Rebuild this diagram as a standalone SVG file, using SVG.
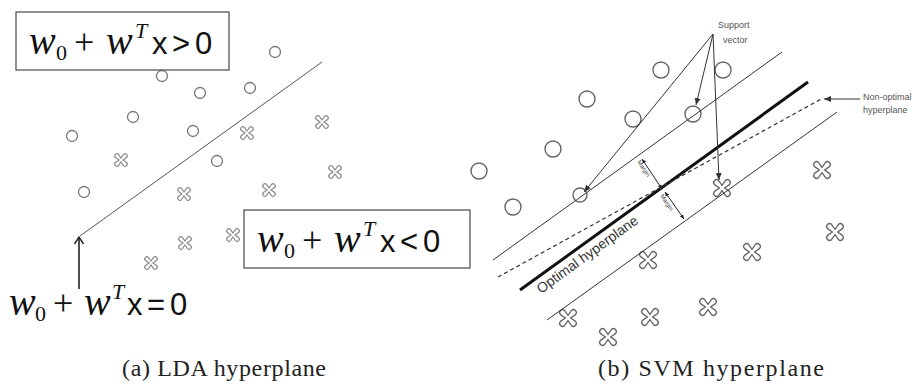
<svg xmlns="http://www.w3.org/2000/svg" xmlns:xlink="http://www.w3.org/1999/xlink" width="915" height="390" viewBox="0 0 915 390">
<style>
.box{fill:#fff;stroke:#555;stroke-width:1.3}
.mi{font-family:"Liberation Serif",serif;font-style:italic;font-size:40px;fill:#111}
.mr{font-family:"Liberation Serif",serif;font-size:36px;fill:#111}
.sub{font-family:"Liberation Serif",serif;font-size:22px;fill:#111}
.ss{font-family:"Liberation Sans",sans-serif;font-size:31px;fill:#111}
.cap{font-family:"Liberation Serif",serif;font-size:24px;fill:#222}
.lc{fill:none;stroke:#777;stroke-width:1.3}
.rc{fill:none;stroke:#666;stroke-width:1.4}
.lx{fill:none;stroke:#888;stroke-width:1.3}
.rx{fill:none;stroke:#666;stroke-width:1.1}
.small{font-family:"Liberation Sans",sans-serif;font-size:9px;fill:#555}
.tiny{font-family:"Liberation Sans",sans-serif;font-size:6px;fill:#444}
</style>
<defs>
<path id="xs" d="M0,-2.2 L2.8,-6.2 A2.4 2.4 0 0 1 6.2,-2.8 L2.2,0 L6.2,2.8 A2.4 2.4 0 0 1 2.8,6.2 L0,2.2 L-2.8,6.2 A2.4 2.4 0 0 1 -6.2,2.8 L-2.2,0 L-6.2,-2.8 A2.4 2.4 0 0 1 -2.8,-6.2 Z"/>
<marker id="chev" markerWidth="12" markerHeight="12" refX="10" refY="6" orient="auto" markerUnits="userSpaceOnUse" viewBox="0 0 12 12">
<path d="M3,1.5 L10,6 L3,10.5" fill="none" stroke="#222" stroke-width="1.4"/>
</marker>
<marker id="ah" markerWidth="8" markerHeight="8" refX="7" refY="4" orient="auto-start-reverse" markerUnits="userSpaceOnUse" viewBox="0 0 8 8">
<path d="M0,1 L7,4 L0,7 Z" fill="#333"/>
</marker>
<marker id="ahs" markerWidth="5" markerHeight="5" refX="4.5" refY="2.5" orient="auto-start-reverse" markerUnits="userSpaceOnUse" viewBox="0 0 5 5">
<path d="M0,0.5 L4.5,2.5 L0,4.5 Z" fill="#222"/>
</marker>
</defs>

<!-- ===== Panel (a) LDA ===== -->
<g id="lda-points">
<circle class="lc" cx="275" cy="52" r="5.5"/>
<circle class="lc" cx="162" cy="76" r="5.5"/>
<circle class="lc" cx="200" cy="93" r="5.5"/>
<circle class="lc" cx="250" cy="88" r="5.5"/>
<circle class="lc" cx="133" cy="117" r="5.5"/>
<circle class="lc" cx="72" cy="136" r="5.5"/>
<circle class="lc" cx="193" cy="131" r="5.5"/>
<circle class="lc" cx="217" cy="161" r="5.5"/>
<circle class="lc" cx="84" cy="192" r="5.5"/>
<use href="#xs" class="lx" transform="translate(247,133) scale(0.9)"/>
<use href="#xs" class="lx" transform="translate(322,122) scale(0.9)"/>
<use href="#xs" class="lx" transform="translate(335,172) scale(0.9)"/>
<use href="#xs" class="lx" transform="translate(121,160) scale(0.9)"/>
<use href="#xs" class="lx" transform="translate(184,194) scale(0.9)"/>
<use href="#xs" class="lx" transform="translate(269,190) scale(0.9)"/>
<use href="#xs" class="lx" transform="translate(233,235) scale(0.9)"/>
<use href="#xs" class="lx" transform="translate(185,243) scale(0.9)"/>
<use href="#xs" class="lx" transform="translate(151,263) scale(0.9)"/>
</g>

<g id="lda-connectors">
<line x1="80" y1="236" x2="322" y2="62" stroke="#555" stroke-width="1"/>
<line x1="79" y1="289" x2="79" y2="237" stroke="#222" stroke-width="1.6" marker-end="url(#chev)"/>
</g>

<g id="label-positive">
<rect class="box" x="16" y="12" width="213" height="58"/>
<text y="54"><tspan class="mi" x="29">w</tspan><tspan class="sub" x="56" dy="6">0</tspan><tspan class="mr" x="74" dy="-6">+</tspan><tspan class="mi" x="106">w</tspan><tspan class="sub" font-style="italic" x="135" dy="-16">T</tspan><tspan class="ss" x="152" dy="16">x</tspan><tspan class="ss" x="172">&gt;</tspan><tspan class="ss" x="195">0</tspan></text>
</g>

<g id="label-negative">
<rect class="box" x="244" y="210" width="226" height="58"/>
<text y="252"><tspan class="mi" x="257">w</tspan><tspan class="sub" x="284" dy="6">0</tspan><tspan class="mr" x="302" dy="-6">+</tspan><tspan class="mi" x="334">w</tspan><tspan class="sub" font-style="italic" x="363" dy="-16">T</tspan><tspan class="ss" x="380" dy="16">x</tspan><tspan class="ss" x="400">&lt;</tspan><tspan class="ss" x="423">0</tspan></text>
</g>

<g id="label-zero">
<text y="315"><tspan class="mi" x="9">w</tspan><tspan class="sub" x="35" dy="6">0</tspan><tspan class="mr" x="53" dy="-6">+</tspan><tspan class="mi" x="84">w</tspan><tspan class="sub" font-style="italic" x="112" dy="-16">T</tspan><tspan class="ss" x="127" dy="16">x</tspan><tspan class="ss" x="147">=</tspan><tspan class="ss" x="170">0</tspan></text>
</g>

<g id="caption-a">
<text class="cap" x="122" y="376" textLength="204" lengthAdjust="spacing">(a) LDA hyperplane</text>
</g>

<!-- ===== Panel (b) SVM ===== -->
<g id="svm-points">
<circle class="rc" cx="661" cy="70" r="8"/>
<circle class="rc" cx="723" cy="70" r="8"/>
<circle class="rc" cx="587" cy="99" r="8"/>
<circle class="rc" cx="633" cy="119" r="8"/>
<circle class="rc" cx="693" cy="114" r="8"/>
<circle class="rc" cx="553" cy="149" r="8"/>
<circle class="rc" cx="479" cy="171" r="8"/>
<circle class="rc" cx="580" cy="195" r="7"/>
<circle class="rc" cx="513" cy="207" r="8"/>
<use href="#xs" class="rx" transform="translate(722,188) scale(1.2)"/>
<use href="#xs" class="rx" transform="translate(822,170) scale(1.2)"/>
<use href="#xs" class="rx" transform="translate(835,232) scale(1.2)"/>
<use href="#xs" class="rx" transform="translate(752,252) scale(1.2)"/>
<use href="#xs" class="rx" transform="translate(708,307) scale(1.2)"/>
<use href="#xs" class="rx" transform="translate(648,260) scale(1.2)"/>
<use href="#xs" class="rx" transform="translate(650,317) scale(1.2)"/>
<use href="#xs" class="rx" transform="translate(568,318) scale(1.2)"/>
<use href="#xs" class="rx" transform="translate(608,337) scale(1.2)"/>
</g>

<g id="svm-connectors">
<line x1="493" y1="260" x2="782" y2="52" stroke="#333" stroke-width="1"/>
<line x1="520" y1="290" x2="808" y2="82" stroke="#111" stroke-width="3"/>
<line x1="498" y1="277" x2="823" y2="98" stroke="#333" stroke-width="1.2" stroke-dasharray="4 3"/>
<line x1="547" y1="320" x2="837" y2="112" stroke="#333" stroke-width="1"/>
<line x1="713" y1="34" x2="584" y2="192" stroke="#333" stroke-width="1" marker-end="url(#ah)"/>
<line x1="713" y1="34" x2="696" y2="105" stroke="#333" stroke-width="1" marker-end="url(#ah)"/>
<line x1="713" y1="34" x2="719" y2="180" stroke="#333" stroke-width="1" marker-end="url(#ah)"/>
<line x1="860" y1="99" x2="824" y2="99" stroke="#999" stroke-width="2" marker-end="url(#ah)"/>
<line x1="642" y1="159" x2="662" y2="189" stroke="#222" stroke-width="1" marker-start="url(#ahs)" marker-end="url(#ahs)"/>
<line x1="665" y1="192" x2="684" y2="219" stroke="#222" stroke-width="1" marker-start="url(#ahs)" marker-end="url(#ahs)"/>
</g>

<g id="label-optimal">
<text font-family="'Liberation Sans',sans-serif" font-size="14" fill="#333" transform="translate(541,294) rotate(-36)">Optimal hyperplane</text>
</g>
<g id="label-margins">
<text class="tiny" transform="translate(637,162) rotate(56)">Margin</text>
<text class="tiny" transform="translate(660,196) rotate(56)">Margin</text>
</g>
<g id="label-support">
<text class="small" x="718" y="28">Support</text>
<text class="small" x="723" y="43">vector</text>
</g>
<g id="label-nonoptimal">
<text class="small" x="863" y="100">Non-optimal</text>
<text class="small" x="863" y="113">hyperplane</text>
</g>

<g id="caption-b">
<text class="cap" x="598" y="376" textLength="226" lengthAdjust="spacing">(b) SVM hyperplane</text>
</g>
</svg>
